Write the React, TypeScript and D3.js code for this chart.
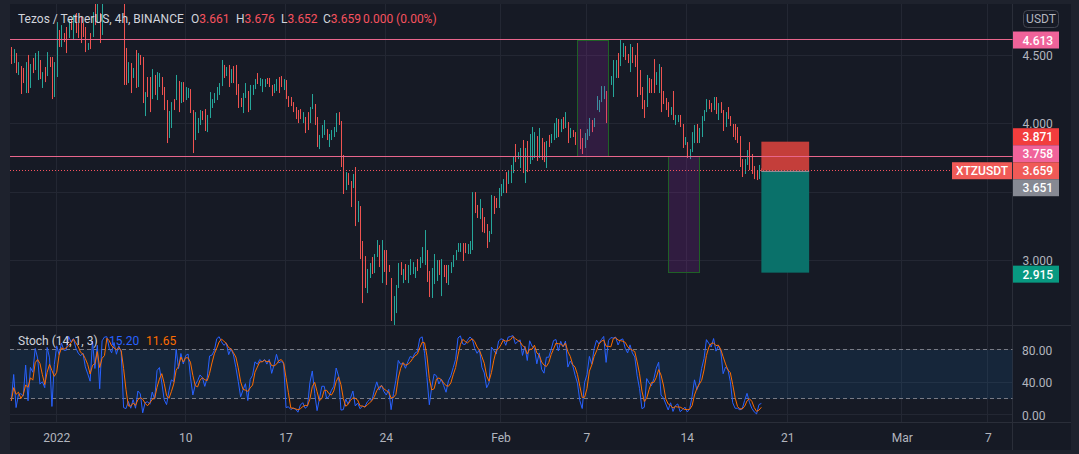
import * as React from "react";
import * as d3 from "d3";

// 4h candles from 2021-12-28 20:00 UTC, each [open, high, low, close]
const candles: [number, number, number, number][] = [
  [4.54, 4.562, 4.438, 4.46], [4.46, 4.547, 4.445, 4.5], [4.5, 4.518, 4.372, 4.39], [4.39, 4.452, 4.358, 4.41], [4.41, 4.423, 4.219, 4.31],
  [4.33, 4.409, 4.299, 4.3], [4.3, 4.452, 4.226, 4.43], [4.43, 4.504, 4.226, 4.28], [4.28, 4.438, 4.263, 4.42], [4.44, 4.482, 4.372, 4.4],
  [4.4, 4.518, 4.394, 4.5], [4.4, 4.533, 4.321, 4.46], [4.46, 4.467, 4.328, 4.35], [4.3, 4.379, 4.263, 4.36], [4.38, 4.416, 4.306, 4.33],
  [4.36, 4.525, 4.35, 4.48], [4.48, 4.489, 4.416, 4.44], [4.44, 4.489, 4.182, 4.22], [4.22, 4.452, 4.197, 4.4], [4.4, 4.744, 4.343, 4.66],
  [4.66, 4.686, 4.562, 4.6], [4.6, 4.722, 4.562, 4.68], [4.66, 4.664, 4.598, 4.63], [4.68, 4.708, 4.518, 4.63], [4.63, 4.759, 4.628, 4.74],
  [4.74, 4.759, 4.686, 4.7], [4.65, 4.796, 4.613, 4.76], [4.76, 4.81, 4.664, 4.7], [4.7, 4.737, 4.628, 4.66], [4.72, 4.781, 4.591, 4.64],
  [4.7, 4.737, 4.635, 4.66], [4.66, 4.708, 4.525, 4.56], [4.55, 4.591, 4.54, 4.58], [4.65, 4.664, 4.547, 4.64], [4.64, 4.817, 4.635, 4.79],
  [4.85, 4.94, 4.722, 4.76], [4.76, 4.94, 4.737, 4.88], [4.78, 4.81, 4.591, 4.66], [4.66, 4.98, 4.65, 4.94], [4.94, 5.01, 4.9, 4.99],
  [4.99, 5.06, 4.95, 5.04], [5.04, 5.08, 4.96, 4.98], [4.98, 5.02, 4.92, 4.95], [4.95, 5.05, 4.94, 5.02], [4.98, 5.0, 4.91, 4.94],
  [4.94, 5.03, 4.92, 5.0], [5.0, 5.01, 4.93, 4.96], [4.96, 4.98, 4.285, 4.36], [4.45, 4.555, 4.285, 4.35], [4.35, 4.452, 4.299, 4.42],
  [4.42, 4.445, 4.226, 4.3], [4.34, 4.409, 4.336, 4.39], [4.45, 4.54, 4.263, 4.3], [4.3, 4.518, 4.27, 4.48], [4.48, 4.504, 4.431, 4.45],
  [4.45, 4.489, 4.153, 4.18], [4.1, 4.233, 4.058, 4.21], [4.3, 4.343, 4.197, 4.22], [4.22, 4.343, 4.087, 4.19], [4.19, 4.401, 4.182, 4.33],
  [4.33, 4.358, 4.212, 4.24], [4.24, 4.379, 4.175, 4.33], [4.3, 4.372, 4.27, 4.34], [4.34, 4.343, 4.212, 4.25], [4.25, 4.27, 4.102, 4.15],
  [4.15, 4.175, 3.861, 3.95], [3.95, 4.095, 3.898, 4.06], [4.0, 4.16, 3.971, 4.14], [4.17, 4.182, 4.102, 4.12], [4.18, 4.358, 4.175, 4.3],
  [4.3, 4.314, 4.087, 4.17], [4.17, 4.306, 4.153, 4.27], [4.27, 4.306, 4.16, 4.2], [4.2, 4.27, 4.175, 4.24], [4.22, 4.263, 4.19, 4.25],
  [4.25, 4.255, 4.08, 4.1], [4.1, 4.102, 3.788, 3.93], [3.93, 4.087, 3.883, 4.0], [3.98, 4.044, 3.934, 4.03], [4.03, 4.102, 3.993, 4.07],
  [4.07, 4.095, 4.029, 4.05], [4.05, 4.109, 3.949, 3.99], [3.99, 4.066, 3.941, 4.05], [4.05, 4.233, 4.044, 4.17], [4.13, 4.182, 4.117, 4.17],
  [4.17, 4.226, 4.153, 4.2], [4.2, 4.27, 4.175, 4.24], [4.24, 4.299, 4.212, 4.28], [4.28, 4.467, 4.277, 4.4], [4.4, 4.431, 4.336, 4.37],
  [4.37, 4.416, 4.35, 4.4], [4.4, 4.431, 4.27, 4.33], [4.33, 4.401, 4.299, 4.37], [4.37, 4.423, 4.299, 4.33], [4.33, 4.431, 4.212, 4.25],
  [4.25, 4.292, 4.117, 4.16], [4.16, 4.19, 4.124, 4.14], [4.14, 4.226, 4.08, 4.2], [4.2, 4.299, 4.19, 4.23], [4.23, 4.241, 4.087, 4.15],
  [4.15, 4.285, 4.102, 4.25], [4.25, 4.285, 4.212, 4.27], [4.27, 4.328, 4.255, 4.31], [4.34, 4.372, 4.292, 4.3], [4.3, 4.336, 4.277, 4.32],
  [4.28, 4.328, 4.233, 4.31], [4.31, 4.328, 4.27, 4.32], [4.32, 4.336, 4.292, 4.3], [4.3, 4.336, 4.27, 4.28], [4.28, 4.285, 4.204, 4.23],
  [4.23, 4.292, 4.226, 4.26], [4.26, 4.328, 4.241, 4.3], [4.3, 4.343, 4.226, 4.27], [4.31, 4.35, 4.27, 4.28], [4.28, 4.328, 4.248, 4.31],
  [4.31, 4.321, 4.182, 4.2], [4.2, 4.204, 4.124, 4.15], [4.17, 4.197, 4.131, 4.14], [4.14, 4.16, 4.087, 4.11], [4.11, 4.124, 4.036, 4.06],
  [4.06, 4.102, 4.007, 4.02], [4.08, 4.109, 4.036, 4.05], [4.02, 4.087, 4.007, 4.06], [4.04, 4.051, 3.934, 3.97], [4.04, 4.087, 3.956, 3.98],
  [4.02, 4.124, 4.007, 4.1], [4.12, 4.219, 4.109, 4.16], [4.14, 4.146, 3.993, 4.04], [4.04, 4.051, 3.832, 3.86], [3.85, 3.92, 3.817, 3.9],
  [3.9, 3.993, 3.898, 3.96], [3.94, 4.029, 3.92, 3.96], [3.95, 3.963, 3.883, 3.9], [3.87, 3.927, 3.832, 3.91], [3.91, 3.956, 3.883, 3.94],
  [3.93, 3.978, 3.905, 3.96], [3.96, 4.08, 3.941, 4.05], [4.05, 4.087, 3.993, 4.01], [4.01, 4.022, 3.686, 3.72], [3.72, 3.774, 3.489, 3.54],
  [3.54, 3.649, 3.518, 3.62], [3.62, 3.642, 3.555, 3.57], [3.57, 3.584, 3.394, 3.54], [3.54, 3.635, 3.533, 3.6], [3.6, 3.686, 3.255, 3.35],
  [3.33, 3.438, 3.284, 3.38], [3.38, 3.401, 3.014, 3.1], [3.1, 3.146, 2.693, 2.85], [2.93, 3.036, 2.803, 2.84], [2.84, 2.942, 2.766, 2.92],
  [2.92, 2.985, 2.876, 2.96], [2.98, 3.029, 2.905, 2.94], [2.94, 3.051, 2.912, 3.03], [3.03, 3.153, 3.029, 3.1], [3.1, 3.117, 2.956, 3.0],
  [3.0, 3.153, 2.839, 3.06], [3.06, 3.08, 2.92, 2.98], [2.98, 3.08, 2.825, 2.94], [2.95, 2.971, 2.92, 2.93], [2.87, 2.876, 2.562, 2.62],
  [2.62, 2.744, 2.533, 2.7], [2.7, 2.825, 2.62, 2.8], [2.81, 2.985, 2.803, 2.95], [2.95, 2.992, 2.898, 2.92], [2.88, 2.942, 2.839, 2.93],
  [2.93, 2.978, 2.861, 2.89], [2.89, 2.971, 2.839, 2.94], [2.94, 3.014, 2.898, 2.98], [2.94, 2.992, 2.905, 2.97], [2.9, 2.956, 2.876, 2.95],
  [2.99, 3.014, 2.927, 2.96], [2.96, 3.029, 2.949, 3.0], [3.0, 3.102, 2.985, 3.08], [3.02, 3.226, 2.971, 3.06], [3.06, 3.08, 2.847, 2.9],
  [2.9, 2.927, 2.737, 2.8], [2.8, 2.949, 2.73, 2.9], [2.9, 3.051, 2.832, 2.98], [2.92, 3.007, 2.854, 2.97], [2.97, 3.007, 2.898, 2.92],
  [2.85, 3.014, 2.744, 2.95], [2.95, 2.971, 2.883, 2.91], [2.92, 2.971, 2.839, 2.87], [2.87, 2.971, 2.825, 2.94], [2.94, 2.992, 2.912, 2.97],
  [2.97, 3.044, 2.956, 3.02], [3.02, 3.08, 3.007, 3.07], [3.07, 3.131, 3.066, 3.11], [3.09, 3.131, 3.066, 3.12], [3.12, 3.131, 3.0, 3.08],
  [3.11, 3.131, 3.058, 3.08], [3.07, 3.124, 3.051, 3.1], [3.1, 3.146, 3.051, 3.13], [3.12, 3.503, 3.08, 3.45], [3.45, 3.503, 3.35, 3.38],
  [3.38, 3.409, 3.314, 3.34], [3.34, 3.452, 3.306, 3.37], [3.37, 3.387, 3.211, 3.26], [3.3, 3.321, 3.204, 3.24], [3.24, 3.27, 3.095, 3.17],
  [3.17, 3.219, 3.138, 3.2], [3.2, 3.482, 3.197, 3.42], [3.42, 3.474, 3.343, 3.4], [3.44, 3.46, 3.387, 3.39], [3.39, 3.533, 3.387, 3.49],
  [3.49, 3.562, 3.474, 3.53], [3.53, 3.598, 3.496, 3.56], [3.6, 3.649, 3.496, 3.57], [3.57, 3.664, 3.562, 3.64], [3.64, 3.701, 3.569, 3.68],
  [3.68, 3.766, 3.642, 3.75], [3.8, 3.854, 3.722, 3.76], [3.76, 3.795, 3.744, 3.78], [3.74, 3.825, 3.679, 3.8], [3.8, 3.883, 3.642, 3.7],
  [3.66, 3.825, 3.569, 3.8], [3.8, 3.876, 3.649, 3.72], [3.72, 3.927, 3.708, 3.88], [3.84, 3.978, 3.737, 3.9], [3.83, 3.941, 3.752, 3.89],
  [3.89, 3.912, 3.73, 3.8], [3.8, 3.971, 3.752, 3.88], [3.88, 3.898, 3.737, 3.8], [3.82, 3.868, 3.722, 3.78], [3.78, 3.876, 3.679, 3.86],
  [3.89, 3.92, 3.832, 3.86], [3.86, 3.927, 3.861, 3.9], [3.9, 4.007, 3.883, 3.97], [3.97, 4.044, 3.898, 4.01], [4.01, 4.036, 3.905, 3.96],
  [3.96, 4.036, 3.941, 4.01], [4.02, 4.051, 3.963, 3.99], [3.99, 4.087, 3.971, 4.05], [4.0, 4.014, 3.861, 3.92], [3.92, 3.971, 3.898, 3.95],
  [3.95, 3.956, 3.905, 3.93], [3.93, 3.941, 3.847, 3.88], [3.88, 3.905, 3.774, 3.84], [3.9, 3.963, 3.817, 3.83], [3.84, 3.898, 3.781, 3.8],
  [3.83, 3.934, 3.825, 3.9], [3.9, 3.963, 3.883, 3.93], [3.93, 4.044, 3.912, 4.0], [4.0, 4.029, 3.941, 3.97], [3.99, 4.044, 3.978, 4.03],
  [4.11, 4.204, 4.102, 4.17], [4.1, 4.175, 4.087, 4.15], [4.17, 4.277, 4.16, 4.24], [4.22, 4.277, 4.182, 4.26], [4.22, 4.241, 4.007, 4.1],
  [4.1, 4.358, 4.029, 4.31], [4.3, 4.35, 4.285, 4.33], [4.3, 4.467, 4.197, 4.43], [4.4, 4.467, 4.336, 4.44], [4.48, 4.518, 4.336, 4.43],
  [4.43, 4.613, 4.423, 4.56], [4.52, 4.591, 4.489, 4.57], [4.56, 4.569, 4.467, 4.5], [4.5, 4.511, 4.445, 4.47], [4.45, 4.584, 4.379, 4.53],
  [4.53, 4.562, 4.445, 4.47], [4.48, 4.504, 4.416, 4.44], [4.5, 4.591, 4.197, 4.3], [4.3, 4.394, 4.212, 4.22], [4.22, 4.27, 4.109, 4.15],
  [4.15, 4.175, 4.044, 4.1], [4.13, 4.358, 4.124, 4.3], [4.3, 4.336, 4.226, 4.27], [4.29, 4.328, 4.226, 4.25], [4.33, 4.474, 4.226, 4.29],
  [4.29, 4.379, 4.285, 4.36], [4.3, 4.438, 4.226, 4.4], [4.4, 4.416, 4.087, 4.18], [4.2, 4.241, 4.146, 4.16], [4.16, 4.19, 4.102, 4.12],
  [4.12, 4.16, 4.051, 4.08], [4.08, 4.124, 4.066, 4.11], [4.14, 4.241, 4.029, 4.05], [4.02, 4.066, 3.993, 4.05], [4.03, 4.066, 4.014, 4.06],
  [4.06, 4.066, 3.978, 4.0], [3.99, 4.0, 3.825, 3.87], [3.87, 3.905, 3.847, 3.89], [3.86, 3.868, 3.752, 3.78], [3.77, 3.817, 3.744, 3.8],
  [3.8, 3.941, 3.795, 3.9], [3.9, 3.993, 3.861, 3.96], [3.96, 4.0, 3.861, 3.9], [3.9, 3.971, 3.861, 3.94], [3.94, 4.058, 3.905, 4.03],
  [4.03, 4.102, 4.022, 4.09], [4.09, 4.182, 4.087, 4.15], [4.15, 4.175, 4.109, 4.13], [4.13, 4.153, 4.087, 4.11], [4.11, 4.197, 4.102, 4.17],
  [4.17, 4.197, 4.073, 4.1], [4.08, 4.153, 4.029, 4.13], [4.13, 4.16, 4.08, 4.1], [4.1, 4.102, 3.949, 4.0], [4.0, 4.087, 3.978, 4.06],
  [4.08, 4.124, 4.036, 4.05], [4.05, 4.058, 3.985, 4.0], [4.0, 4.0, 3.905, 3.95], [3.96, 4.0, 3.883, 3.91], [3.91, 3.978, 3.861, 3.89],
  [3.89, 3.912, 3.686, 3.72], [3.72, 3.744, 3.613, 3.66], [3.66, 3.744, 3.635, 3.72], [3.72, 3.81, 3.701, 3.77], [3.78, 3.868, 3.664, 3.7],
  [3.7, 3.781, 3.635, 3.66], [3.66, 3.693, 3.598, 3.62], [3.62, 3.664, 3.591, 3.6], [3.6, 3.701, 3.598, 3.661], [3.661, 3.676, 3.652, 3.659],
];

const firstBarTime = Date.UTC(2021, 11, 28, 20);
const barHours = 4;

const priceTicks = [3, 3.5, 4, 4.5];
const stochTicks = [0, 40, 80];
const stochBand = [20, 80];
const stochLength = 14;
const stochSmoothD = 3;

const timeTickDates = [
  Date.UTC(2022, 0, 1), Date.UTC(2022, 0, 10), Date.UTC(2022, 0, 17), Date.UTC(2022, 0, 24),
  Date.UTC(2022, 1, 1), Date.UTC(2022, 1, 7), Date.UTC(2022, 1, 14), Date.UTC(2022, 1, 21),
  Date.UTC(2022, 2, 1), Date.UTC(2022, 2, 7),
];
const timeTickLabels = ["2022", "10", "17", "24", "Feb", "7", "14", "21", "Mar", "7"];

const levelPrices = [4.613, 3.758];
const lastPrice = 3.659;
const prevClosePrice = 3.651;
const stopPrice = 3.871;
const targetPrice = 2.915;
const positionTimes = [Date.UTC(2022, 1, 19, 4), Date.UTC(2022, 1, 22, 12)];

const boxTimes = [
  [Date.UTC(2022, 1, 6, 8), Date.UTC(2022, 1, 8, 12)],
  [Date.UTC(2022, 1, 12, 16), Date.UTC(2022, 1, 14, 20)],
];
const boxPrices = [
  [4.613, 3.768],
  [3.77, 2.925],
];

const legendTitle = "Tezos / TetherUS, 4h, BINANCE";
const legendKeys = ["O", "H", "L", "C"];
const legendValues = ["3.661", "3.676", "3.652", "3.659"];
const legendChange = "0.000 (0.00%)";
const stochTitle = "Stoch (14, 1, 3)";
const stochValues = ["15.20", "11.65"];
const symbolName = "XTZUSDT";
const currency = "USDT";

const W = 1079;
const H = 454;

const TezosChart = () => {
  const svgRef = React.useRef<SVGSVGElement>(null);

  React.useEffect(() => {
    const svg = d3.select(svgRef.current);
    svg.selectAll("*").remove();

    const font = "Roboto, 'Noto Sans', sans-serif";
    const left = 10;
    const right = 1012.5;
    const top = 4;
    const mainBottom = 325;
    const stochTop = 326;
    const stochBottom = 422;
    const axisRight = 1071;
    const bottom = 450;

    const x = d3
      .scaleUtc()
      .domain([new Date(Date.UTC(2022, 0, 1)), new Date(Date.UTC(2022, 2, 7))])
      .range([56.7, 988.3]);
    const y = d3.scaleLinear().domain([3, 4]).range([261, 124]);
    const ys = d3.scaleLinear().domain([0, 80]).range([415.3, 350]);
    const barX = (i: number) =>
      x(new Date(firstBarTime + i * barHours * 3600 * 1000));
    const crisp = (v: number) => Math.round(v) - 0.5;

    // stochastic (14, 1, 3)
    const kLine = candles.map((c, i) => {
      const win = candles.slice(Math.max(0, i - stochLength + 1), i + 1);
      const hh = d3.max(win, (d) => d[1]) as number;
      const ll = d3.min(win, (d) => d[2]) as number;
      return hh === ll ? 50 : (100 * (c[3] - ll)) / (hh - ll);
    });
    const dLine = kLine.map(
      (_, i) =>
        d3.mean(kLine.slice(Math.max(0, i - stochSmoothD + 1), i + 1)) as number
    );

    // frame and panes
    svg.append("rect").attr("width", W).attr("height", H).attr("fill", "#1e222d");
    svg
      .append("rect")
      .attr("x", left)
      .attr("y", top)
      .attr("width", axisRight - left)
      .attr("height", bottom - top)
      .attr("fill", "#161a25");

    const defs = svg.append("defs");
    defs
      .append("clipPath")
      .attr("id", "mainClip")
      .append("rect")
      .attr("x", left)
      .attr("y", top)
      .attr("width", right - left)
      .attr("height", mainBottom - top);
    defs
      .append("clipPath")
      .attr("id", "stochClip")
      .append("rect")
      .attr("x", left)
      .attr("y", stochTop)
      .attr("width", right - left)
      .attr("height", stochBottom - stochTop);

    const grid = svg.append("g").attr("stroke", "#232733").attr("stroke-width", 1);
    timeTickDates.forEach((t) => {
      const gx = crisp(x(new Date(t)));
      grid.append("line").attr("x1", gx).attr("x2", gx).attr("y1", top).attr("y2", mainBottom);
      grid.append("line").attr("x1", gx).attr("x2", gx).attr("y1", stochTop).attr("y2", stochBottom);
    });
    priceTicks.forEach((p) => {
      const gy = crisp(y(p));
      grid.append("line").attr("x1", left).attr("x2", right).attr("y1", gy).attr("y2", gy);
    });
    stochTicks.forEach((v) => {
      const gy = crisp(ys(v));
      grid.append("line").attr("x1", left).attr("x2", right).attr("y1", gy).attr("y2", gy);
    });

    // separators
    const sep = svg.append("g").attr("stroke", "#2a2e39").attr("stroke-width", 1);
    sep.append("line").attr("x1", right).attr("x2", right).attr("y1", top).attr("y2", bottom);
    sep.append("line").attr("x1", left).attr("x2", axisRight).attr("y1", 325.5).attr("y2", 325.5);
    sep.append("line").attr("x1", left).attr("x2", axisRight).attr("y1", 422.5).attr("y2", 422.5);

    // stochastic band
    svg
      .append("rect")
      .attr("x", left)
      .attr("width", right - left)
      .attr("y", ys(stochBand[1]))
      .attr("height", ys(stochBand[0]) - ys(stochBand[1]))
      .attr("fill", "rgba(33,150,243,0.1)");
    stochBand.forEach((v) => {
      svg
        .append("line")
        .attr("x1", left)
        .attr("x2", right)
        .attr("y1", crisp(ys(v)))
        .attr("y2", crisp(ys(v)))
        .attr("stroke", "#787b86")
        .attr("stroke-dasharray", "4 3");
    });

    // candles (body and wick are the same 1px width at this zoom)
    const candleG = svg.append("g").attr("clip-path", "url(#mainClip)");
    candleG
      .selectAll("rect")
      .data(candles)
      .enter()
      .append("rect")
      .attr("x", (_, i) => Math.round(barX(i)))
      .attr("width", 1)
      .attr("y", (d) => y(d[1]))
      .attr("height", (d) => Math.max(1, y(d[2]) - y(d[1])))
      .attr("fill", (d) => (d[3] >= d[0] ? "#26a69a" : "#ef5350"));

    // purple boxes
    boxTimes.forEach((bt, k) => {
      const x0 = x(new Date(bt[0]));
      const x1 = x(new Date(bt[1]));
      const y0 = y(boxPrices[k][0]);
      const y1 = y(boxPrices[k][1]);
      svg
        .append("rect")
        .attr("x", Math.round(x0) + 0.5)
        .attr("y", Math.round(y0) + 0.5)
        .attr("width", Math.round(x1 - x0))
        .attr("height", Math.round(y1 - y0))
        .attr("fill", "rgba(156,39,176,0.2)")
        .attr("stroke", "#1f6126")
        .attr("stroke-width", 1);
    });

    // short position tool
    const px0 = x(new Date(positionTimes[0]));
    const px1 = x(new Date(positionTimes[1]));
    svg
      .append("rect")
      .attr("x", px0)
      .attr("width", px1 - px0)
      .attr("y", y(stopPrice))
      .attr("height", y(lastPrice) - y(stopPrice))
      .attr("fill", "#c43e3a");
    svg
      .append("rect")
      .attr("x", px0)
      .attr("width", px1 - px0)
      .attr("y", y(lastPrice))
      .attr("height", y(targetPrice) - y(lastPrice))
      .attr("fill", "#0a716a");
    svg
      .append("line")
      .attr("x1", px0)
      .attr("x2", px1)
      .attr("y1", crisp(y(lastPrice)) + 1)
      .attr("y2", crisp(y(lastPrice)) + 1)
      .attr("stroke", "#8a8d96");

    // horizontal levels
    levelPrices.forEach((p) => {
      svg
        .append("line")
        .attr("x1", left)
        .attr("x2", right)
        .attr("y1", crisp(y(p)))
        .attr("y2", crisp(y(p)))
        .attr("stroke", "#e8668c");
    });
    svg
      .append("line")
      .attr("x1", left)
      .attr("x2", 951)
      .attr("y1", crisp(y(lastPrice)))
      .attr("y2", crisp(y(lastPrice)))
      .attr("stroke", "#f7525f")
      .attr("stroke-dasharray", "1 2");

    // stochastic lines
    const stochG = svg.append("g").attr("clip-path", "url(#stochClip)").attr("fill", "none");
    const line = d3
      .line<number>()
      .x((_, i) => barX(i))
      .y((v) => ys(v));
    stochG.append("path").attr("d", line(kLine)).attr("stroke", "#2962ff").attr("stroke-width", 1);
    stochG.append("path").attr("d", line(dLine)).attr("stroke", "#ff6d00").attr("stroke-width", 1);

    // price labels on the axis, stacked around the last price
    const labels = [
      { p: levelPrices[0], fill: "#f0639a" },
      { p: stopPrice, fill: "#f23d3d" },
      { p: levelPrices[1], fill: "#f0639a" },
      { p: lastPrice, fill: "#f05a57", anchor: true },
      { p: prevClosePrice, fill: "#868993" },
      { p: targetPrice, fill: "#089981" },
    ];
    const lh = 17;
    const a = labels.findIndex((l) => l.anchor);
    const ly: number[] = labels.map((l) => y(l.p));
    for (let i = a - 1; i >= 0; i--) ly[i] = Math.min(ly[i], ly[i + 1] - lh);
    for (let i = a + 1; i < labels.length; i++) ly[i] = Math.max(ly[i], ly[i - 1] + lh);
    ly[labels.length - 1] += 1.5;

    // axis tick texts (a tick hidden behind a label box is skipped)
    const axisText = svg
      .append("g")
      .attr("font-family", font)
      .attr("font-size", 12)
      .attr("fill", "#b2b5be");
    priceTicks.forEach((p) => {
      const ty = y(p);
      if (ly.some((v) => Math.abs(v - ty) < 7)) return;
      axisText.append("text").attr("x", 1022.5).attr("y", ty + 4).text(d3.format(".3f")(p));
    });
    stochTicks.forEach((v) => {
      axisText.append("text").attr("x", 1022).attr("y", ys(v) + 4.5).text(d3.format(".2f")(v));
    });
    timeTickDates.forEach((t, i) => {
      axisText
        .append("text")
        .attr("x", x(new Date(t)))
        .attr("y", 441.5)
        .attr("text-anchor", "middle")
        .text(timeTickLabels[i]);
    });

    labels.forEach((l, i) => {
      svg
        .append("rect")
        .attr("x", 1013)
        .attr("y", ly[i] - lh / 2)
        .attr("width", 46)
        .attr("height", lh)
        .attr("fill", l.fill);
      svg
        .append("text")
        .attr("x", 1022.5)
        .attr("y", ly[i] + 4.5)
        .attr("font-family", font)
        .attr("font-size", 12)
        .attr("font-weight", 500)
        .attr("fill", "#ffffff")
        .text(d3.format(".3f")(l.p));
    });
    svg
      .append("rect")
      .attr("x", 952)
      .attr("y", ly[a] - lh / 2)
      .attr("width", 60)
      .attr("height", lh)
      .attr("fill", "#f05a57");
    svg
      .append("text")
      .attr("x", 982)
      .attr("y", ly[a] + 4.5)
      .attr("text-anchor", "middle")
      .attr("font-family", font)
      .attr("font-size", 12)
      .attr("font-weight", 500)
      .attr("fill", "#ffffff")
      .text(symbolName);

    // currency badge
    svg
      .append("rect")
      .attr("x", 1023.5)
      .attr("y", 10.5)
      .attr("width", 35)
      .attr("height", 17)
      .attr("rx", 4)
      .attr("fill", "#161a25")
      .attr("stroke", "#434651");
    svg
      .append("text")
      .attr("x", 1041)
      .attr("y", 23)
      .attr("text-anchor", "middle")
      .attr("font-family", font)
      .attr("font-size", 12)
      .attr("fill", "#b2b5be")
      .text(currency);

    // legends
    const legend = svg.append("g").attr("font-family", font).attr("font-size", 12);
    legend.append("text").attr("x", 18).attr("y", 22.5).attr("fill", "#d1d4dc").text(legendTitle);
    const keyX = [191, 236, 281, 323];
    legendKeys.forEach((k, i) => {
      const t = legend.append("text").attr("x", keyX[i]).attr("y", 22.5);
      t.append("tspan").attr("fill", "#d1d4dc").text(k);
      t.append("tspan").attr("fill", "#f7525f").text(legendValues[i]);
    });
    legend.append("text").attr("x", 363).attr("y", 22.5).attr("fill", "#f7525f").text(legendChange);

    legend.append("text").attr("x", 18).attr("y", 345).attr("fill", "#d1d4dc").text(stochTitle);
    legend.append("text").attr("x", 109).attr("y", 345).attr("fill", "#2962ff").text(stochValues[0]);
    legend.append("text").attr("x", 146).attr("y", 345).attr("fill", "#ff6d00").text(stochValues[1]);
  }, []);

  return (
    <svg
      ref={svgRef}
      width={W}
      height={H}
      style={{ position: "absolute", left: 0, top: 0, display: "block" }}
    />
  );
};

export default function App() {
  return <TezosChart />;
}
